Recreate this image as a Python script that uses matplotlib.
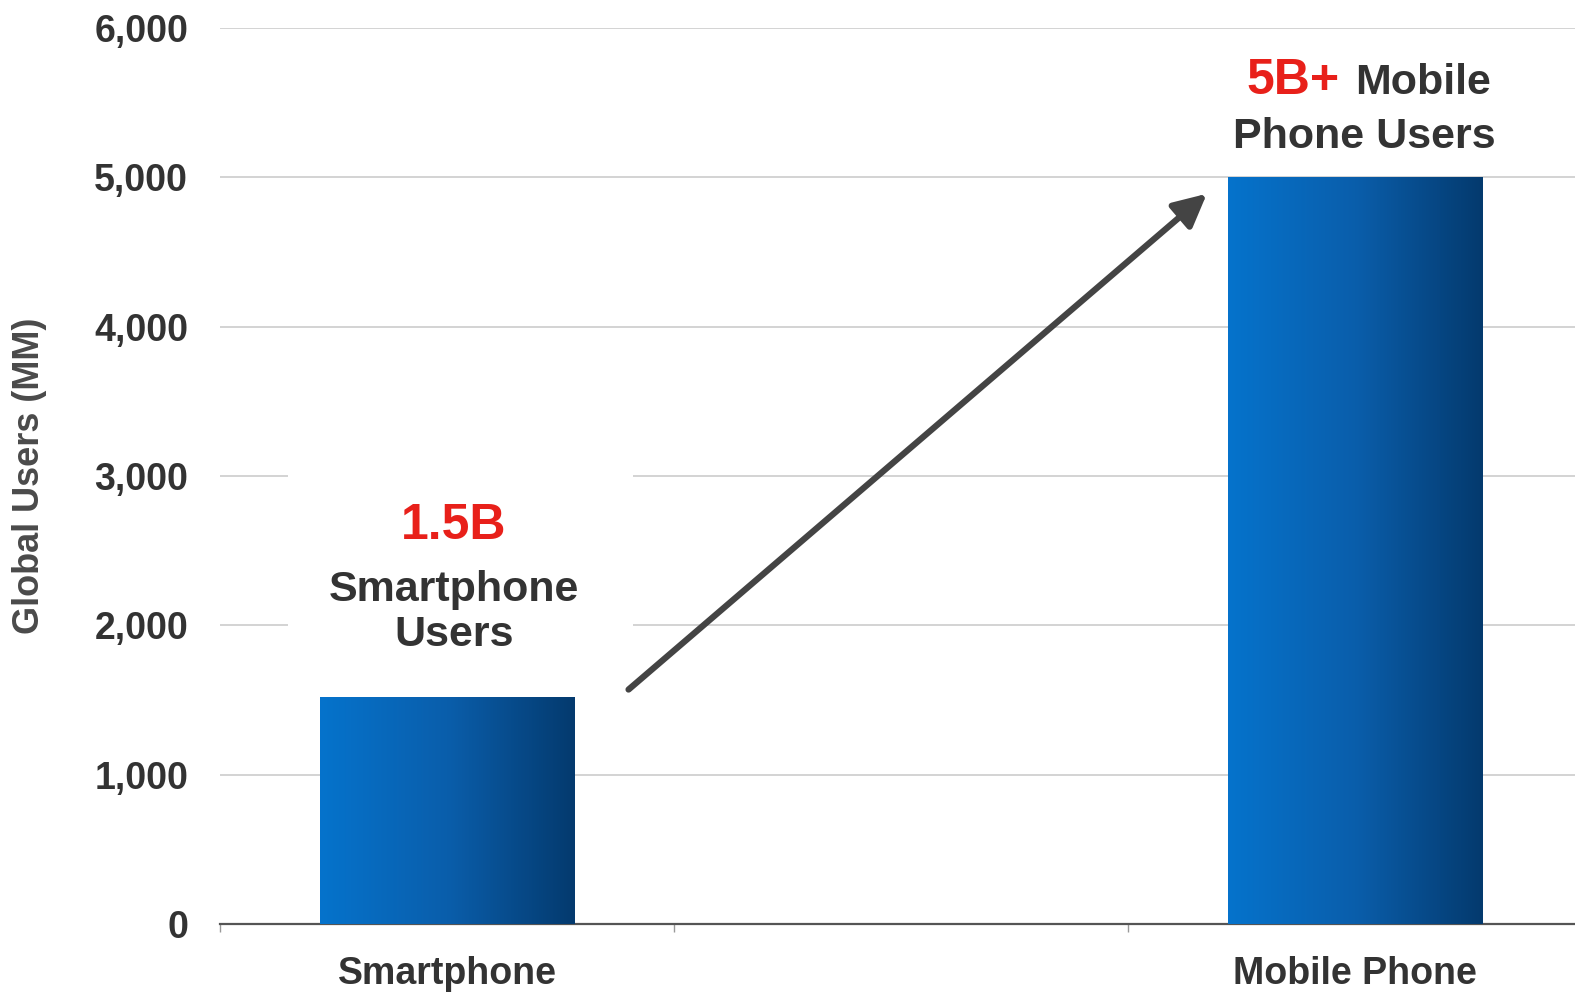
import matplotlib.pyplot as plt
import matplotlib.colors as mcolors
from matplotlib.patches import Rectangle
import numpy as np

# data
categories = ['Smartphone', 'Mobile Phone']
users_mm = [1520, 5000]
highlight = ['1.5B', '5B+']
yticks = [0, 1000, 2000, 3000, 4000, 5000, 6000]

plt.rcParams['font.family'] = ['Liberation Sans', 'DejaVu Sans']
plt.rcParams['font.weight'] = 'bold'

TEXT = '#333333'
RED = '#e8201a'
grad = mcolors.LinearSegmentedColormap.from_list('blu', ['#0573cc', '#0a5eab', '#043a6e'])

fig = plt.figure(figsize=(15.75, 9.92), dpi=100)
ax = fig.add_axes([220 / 1575, 68 / 992, 1355 / 1575, 896 / 992])

# every category gets a slot, with an empty slot between them
x = np.arange(len(categories)) * 2
bars = ax.bar(x, users_mm, width=0.56, facecolor='none', edgecolor='none', zorder=3)

ax.set_xlim(-0.5, 2.485)
ax.set_ylim(0, 6000)

# horizontal gradient fill, clipped to each bar
g = np.linspace(0, 1, 256).reshape(1, -1)
for b in bars:
    x0, y0 = b.get_x(), b.get_y()
    im = ax.imshow(g, cmap=grad, aspect='auto', zorder=3,
                   extent=[x0, x0 + b.get_width(), y0, y0 + b.get_height()])
    im.set_clip_path(b)

ax.set_yticks(yticks)
ax.set_yticklabels([f'{v:,}' for v in yticks])
ax.yaxis.grid(True, color='#cccccc', linewidth=1.2)
ax.set_axisbelow(True)
ax.tick_params(axis='y', length=0, pad=23, labelsize=27, labelcolor=TEXT)

# boundary ticks on the x axis, labels at the bar centres
ax.set_xticks(np.arange(-0.5, 2, 1.0))
ax.set_xticklabels([])
ax.tick_params(axis='x', which='major', length=6, width=1, color='#999999')
ax.set_xticks(x, minor=True)
ax.set_xticklabels(categories, minor=True)
ax.tick_params(axis='x', which='minor', length=0, pad=23, labelsize=27, labelcolor=TEXT)

for s in ['top', 'right', 'left']:
    ax.spines[s].set_visible(False)
ax.spines['bottom'].set_color('#555555')
ax.spines['bottom'].set_linewidth(1.6)

ax.set_ylabel('Global Users (MM)', fontsize=26, fontweight='bold', color='#4a4a4a', labelpad=34)

# white panel behind the smartphone label
ax.add_patch(Rectangle((-0.35, 1750), 0.76, 1380, facecolor='white',
                       edgecolor='none', zorder=1))

# smartphone label
ax.annotate(highlight[0], (x[0], users_mm[0]), xytext=(5, 114), textcoords='offset points',
            ha='center', va='baseline', fontsize=36, color=RED, zorder=4)
ax.annotate('Smartphone\nUsers', (x[0], users_mm[0]), xytext=(5, 37), textcoords='offset points',
            ha='center', va='baseline', fontsize=31, color=TEXT, linespacing=1.15, zorder=4)

# mobile phone label
ax.annotate(highlight[1], (x[1], users_mm[1]), xytext=(-11, 60), textcoords='offset points',
            ha='right', va='baseline', fontsize=36, color=RED, zorder=4)
ax.annotate('Mobile', (x[1], users_mm[1]), xytext=(0, 60), textcoords='offset points',
            ha='left', va='baseline', fontsize=31, color=TEXT, zorder=4)
ax.annotate('Phone Users', (x[1], users_mm[1]), xytext=(7, 21), textcoords='offset points',
            ha='center', va='baseline', fontsize=31, color=TEXT, zorder=4)

# growth arrow
ax.annotate('', xy=(1.674, 4890), xytext=(0.40, 1570),
            arrowprops=dict(arrowstyle='-|>,head_length=0.9,head_width=0.45',
                            color='#444444', lw=4.5, mutation_scale=22, shrinkA=0, shrinkB=0),
            zorder=5)

fig.savefig('out.png', dpi=100)
